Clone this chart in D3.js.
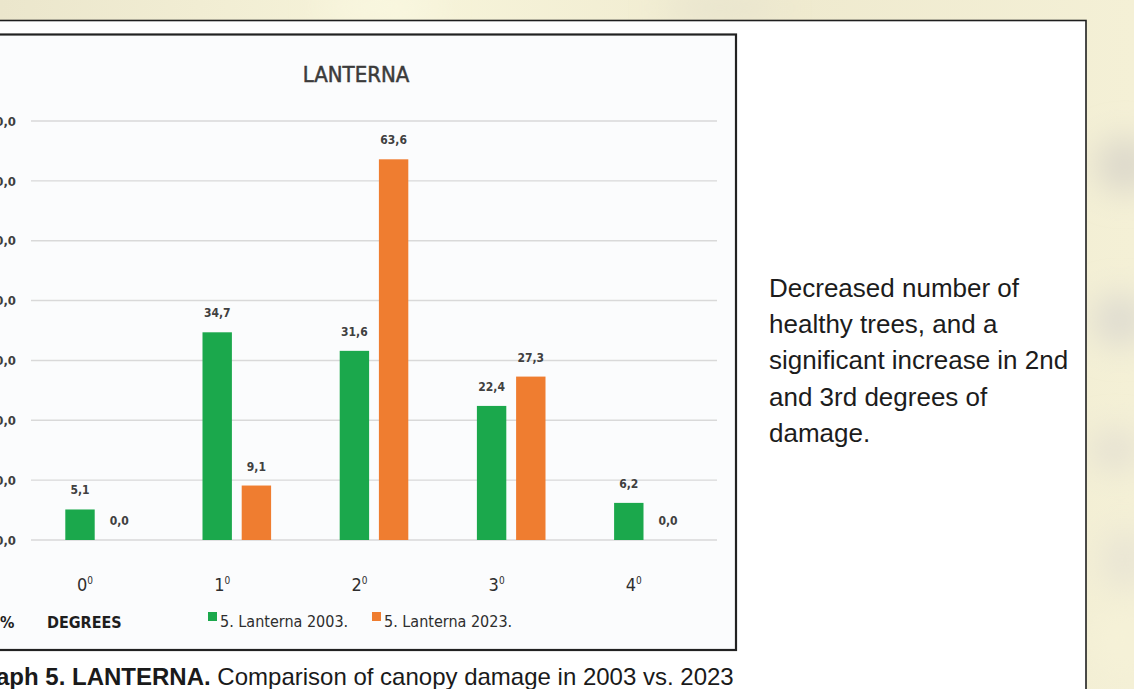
<!DOCTYPE html>
<html>
<head>
<meta charset="utf-8">
<script src="https://cdn.jsdelivr.net/npm/d3@7"></script>
<style>
  html, body { margin: 0; padding: 0; overflow: hidden; background: #f1edd4; }
  svg { display: block; }
</style>
</head>
<body>
<svg id="chart" width="1134" height="689"></svg>
<script>
// Canopy damage degrees and the share of trees (%) in each survey year
const categories = ["0", "1", "2", "3", "4"];
const seriesNames = ["5. Lanterna 2003.", "5. Lanterna 2023."];
const values2003 = [5.1, 34.7, 31.6, 22.4, 6.2];
const values2023 = [0.0, 9.1, 63.6, 27.3, 0.0];
const yTicks = [0, 10, 20, 30, 40, 50, 60, 70];
const seriesColors = ["#1ba84c", "#ef7d30"];
const noteLines = [
  "Decreased number of",
  "healthy trees, and a",
  "significant increase in 2nd",
  "and 3rd degrees of",
  "damage."
];

const narrow = "'DejaVu Sans Condensed', 'Liberation Sans Narrow', sans-serif";
const sans = "'Liberation Sans', Arial, sans-serif";
const fmt = v => d3.format(".1f")(v).replace(".", ",");

const svg = d3.select("#chart");

// ---- page background (soft beige paper) ----
const defs = svg.append("defs");
defs.append("filter").attr("id", "soft").attr("x", "-50%").attr("y", "-50%")
  .attr("width", "200%").attr("height", "200%")
  .append("feGaussianBlur").attr("stdDeviation", 16);
const bgGrad = defs.append("linearGradient").attr("id", "paper")
  .attr("x1", 0).attr("y1", 0).attr("x2", 1).attr("y2", 0);
bgGrad.append("stop").attr("offset", "0%").attr("stop-color", "#ebe6cc");
bgGrad.append("stop").attr("offset", "35%").attr("stop-color", "#f7f4da");
bgGrad.append("stop").attr("offset", "70%").attr("stop-color", "#efeacf");
bgGrad.append("stop").attr("offset", "100%").attr("stop-color", "#f4f0d6");
svg.append("rect").attr("width", 1134).attr("height", 689).attr("fill", "url(#paper)");
const blobs = svg.append("g").attr("filter", "url(#soft)");
[[1125, 165, 30, 28, "#dcd8cb"], [1120, 320, 28, 26, "#dedbd0"], [1115, 450, 25, 20, "#e4e0d2"],
 [1125, 560, 22, 30, "#e8e4d4"], [720, 8, 60, 10, "#e4e0cc"], [380, 6, 60, 10, "#fbf9e4"],
 [1120, 640, 20, 30, "#f6f2d8"]]
  .forEach(([cx, cy, rx, ry, c]) => blobs.append("ellipse")
    .attr("cx", cx).attr("cy", cy).attr("rx", rx).attr("ry", ry).attr("fill", c));

// ---- outer white sheet and inner chart frame ----
svg.append("rect").attr("x", -10).attr("y", 20.5).attr("width", 1096).attr("height", 700)
  .attr("fill", "#ffffff").attr("stroke", "#1e1e1e").attr("stroke-width", 1.6);
svg.append("rect").attr("x", -10).attr("y", 34.5).attr("width", 746).attr("height", 615.5)
  .attr("fill", "#fbfcfd").attr("stroke", "#222222").attr("stroke-width", 2.2);

// ---- scales ----
const x0 = d3.scaleBand().domain(categories).range([31, 717]).paddingInner(0.5).paddingOuter(0.25);
const x1 = d3.scaleBand().domain(d3.range(seriesNames.length)).range([0, x0.bandwidth()]).paddingInner(0.25);
const y = d3.scaleLinear().domain([0, 70]).range([540, 121]);

// gridlines
svg.append("g").selectAll("line").data(yTicks).join("line")
  .attr("x1", 31).attr("x2", 717)
  .attr("y1", d => y(d)).attr("y2", d => y(d))
  .attr("stroke", "#d9d9d9").attr("stroke-width", 1.4);

// value axis labels
const yAxis = svg.append("g").attr("transform", "translate(19,0)")
  .call(d3.axisLeft(y).tickValues(yTicks).tickFormat(fmt).tickSize(0).tickPadding(3));
yAxis.select(".domain").remove();
yAxis.selectAll("text").attr("font-family", narrow).attr("font-weight", "bold")
  .attr("font-size", 13).attr("fill", "#3f3f3f");

// title
svg.append("text").attr("x", 356).attr("y", 82).attr("text-anchor", "middle")
  .attr("font-family", narrow).attr("font-size", 22)
  .attr("fill", "#3b3b3b").attr("stroke", "#3b3b3b").attr("stroke-width", 0.5)
  .text("LANTERNA");

// bars
const rows = categories.map((c, i) => ({ cat: c, vals: [values2003[i], values2023[i]] }));
const groups = svg.append("g").selectAll("g").data(rows).join("g")
  .attr("transform", d => `translate(${x0(d.cat)},0)`);
groups.selectAll("rect").data(d => d.vals.map((v, k) => ({ v, k }))).join("rect")
  .attr("x", d => x1(d.k)).attr("width", x1.bandwidth())
  .attr("y", d => y(d.v)).attr("height", d => y(0) - y(d.v))
  .attr("fill", d => seriesColors[d.k]);
groups.selectAll("text").data(d => d.vals.map((v, k) => ({ v, k }))).join("text")
  .attr("x", d => x1(d.k) + x1.bandwidth() / 2).attr("y", d => y(d.v) - 15)
  .attr("text-anchor", "middle").attr("font-family", narrow).attr("font-weight", "bold")
  .attr("font-size", 12).attr("fill", "#404040").text(d => fmt(d.v));

// category axis labels (degree marks)
const xAxis = svg.append("g").attr("transform", "translate(0,576)")
  .call(d3.axisBottom(x0).tickSize(0).tickPadding(0));
xAxis.select(".domain").remove();
xAxis.selectAll("text")
  .attr("dx", -x1.step() / 2 + 5).attr("dy", 15)
  .attr("font-family", narrow).attr("font-size", 18).attr("fill", "#2e2e2e")
  .text(null)
  .each(function (d) {
    const t = d3.select(this);
    t.append("tspan").text(d);
    t.append("tspan").attr("font-size", 10).attr("dy", -7).text("0");
  });

// axis captions
svg.append("text").attr("x", 0).attr("y", 628).attr("font-family", narrow)
  .attr("font-weight", "bold").attr("font-size", 16).attr("fill", "#1e1e1e").text("%");
svg.append("text").attr("x", 47).attr("y", 628).attr("font-family", narrow)
  .attr("font-weight", "bold").attr("font-size", 16).attr("fill", "#1e1e1e").text("DEGREES");

// legend
const legendX = [208, 372];
const legend = svg.append("g").selectAll("g").data(seriesNames).join("g")
  .attr("transform", (d, i) => `translate(${legendX[i]},612)`);
legend.append("rect").attr("width", 9).attr("height", 9).attr("fill", (d, i) => seriesColors[i]);
legend.append("text").attr("x", 12).attr("y", 15).attr("font-family", narrow)
  .attr("font-size", 16).attr("fill", "#2e2e2e").text(d => d);

// side note
svg.append("text").attr("font-family", sans).attr("font-size", 26).attr("fill", "#1c1c1c")
  .selectAll("tspan").data(noteLines).join("tspan")
  .attr("x", 769).attr("y", (d, i) => 297 + i * 36.2).text(d => d);

// figure caption
const cap = svg.append("text").attr("x", -32).attr("y", 685)
  .attr("font-family", sans).attr("font-size", 24).attr("fill", "#1a1a1a");
cap.append("tspan").attr("font-weight", "bold").text("Graph 5. LANTERNA.");
cap.append("tspan").text(" Comparison of canopy damage in 2003 vs. 2023");
</script>
</body>
</html>
